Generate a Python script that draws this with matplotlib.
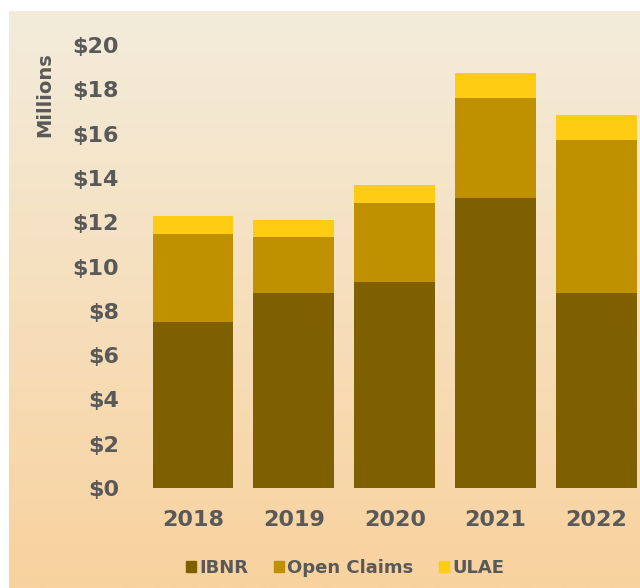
import matplotlib
matplotlib.use("Agg")
import matplotlib.pyplot as plt
import numpy as np
from matplotlib.patches import Patch

# reserve breakdown by year, in $ millions
years = ["2018", "2019", "2020", "2021", "2022"]
ibnr = [7.5, 8.8, 9.3, 13.1, 8.8]
open_claims = [3.95, 2.55, 3.55, 4.5, 6.9]
ulae = [0.85, 0.75, 0.85, 1.15, 1.15]

colors = {"IBNR": "#7F6000", "Open Claims": "#BF9000", "ULAE": "#FFCC14"}
text_color = "#595959"

fig = plt.figure(figsize=(6.4, 5.88), dpi=100)

# gradient panel behind the chart
bg = fig.add_axes([9 / 640, 0, 1, 1 - 11 / 588])
grad = np.linspace(0, 1, 256).reshape(-1, 1)
top = np.array([243, 236, 219]) / 255
bottom = np.array([249, 210, 158]) / 255
img = top + (bottom - top) * grad[:, :, None]
bg.imshow(img, aspect="auto", extent=[0, 1, 0, 1], origin="upper")
bg.axis("off")

ax = fig.add_axes([142.5 / 640, 1 - 488 / 588, 504.5 / 640, (488 - 45) / 588])
ax.set_facecolor("none")

x = np.arange(len(years))
b1 = np.array(ibnr)
b2 = b1 + np.array(open_claims)
ax.bar(x, ibnr, width=0.8, color=colors["IBNR"])
ax.bar(x, open_claims, width=0.8, bottom=b1, color=colors["Open Claims"])
ax.bar(x, ulae, width=0.8, bottom=b2, color=colors["ULAE"])

ax.set_xlim(-0.5, 4.5)
ax.set_ylim(0, 20)
ax.set_yticks(range(0, 21, 2))
ax.set_yticklabels(["$%d" % v for v in range(0, 21, 2)])
ax.set_xticks(x)
ax.set_xticklabels(years)
for s in ax.spines.values():
    s.set_visible(False)
ax.tick_params(axis="both", length=0, colors=text_color, labelsize=16)
ax.tick_params(axis="y", pad=17)
ax.tick_params(axis="x", pad=16)
for lab in ax.get_xticklabels() + ax.get_yticklabels():
    lab.set_fontweight("bold")

fig.text(45 / 640, 1 - 95 / 588, "Millions", rotation=90, ha="center", va="center",
         fontsize=14, fontweight="bold", color=text_color)

handles = [Patch(color=c, label=k) for k, c in colors.items()]
fig.legend(handles=handles, loc="center", bbox_to_anchor=(345 / 640, 1 - 568 / 588),
           ncol=3, frameon=False, handlelength=0.55, handleheight=0.55,
           handletextpad=0.2, columnspacing=1.4, labelcolor=text_color,
           prop={"size": 13, "weight": "bold"})

fig.savefig("out.png", dpi=100)
